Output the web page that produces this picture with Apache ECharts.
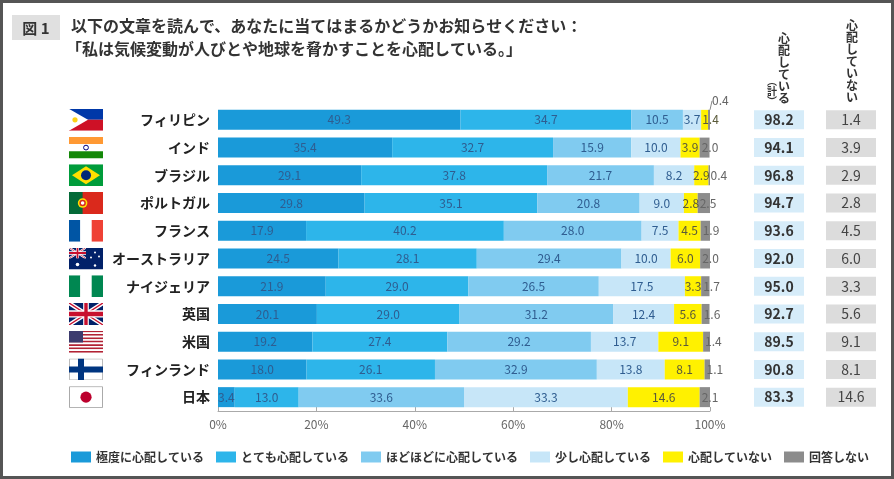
<!DOCTYPE HTML>
<html lang="ja">

<head>
	<meta charset="utf-8">
	<title>図1 気候変動への心配</title>
	<style>
		html, body {
			margin: 0;
			padding: 0;
			background: #fff;
		}
		#main {
			width: 894px;
			height: 479px;
		}
	</style>
</head>

<body>
	<div id="main"></div>

	<script src="https://cdn.jsdelivr.net/npm/echarts@6/dist/echarts.min.js"></script>

	<script>
		var countries = ['フィリピン', 'インド', 'ブラジル', 'ポルトガル', 'フランス', 'オーストラリア', 'ナイジェリア', '英国', '米国', 'フィンランド', '日本'];
		var flagCodes = ['ph', 'in', 'br', 'pt', 'fr', 'au', 'ng', 'gb', 'us', 'fi', 'jp'];

		var seriesNames = ['極度に心配している', 'とても心配している', 'ほどほどに心配している', '少し心配している', '心配していない', '回答しない'];
		var extreme = [49.3, 35.4, 29.1, 29.8, 17.9, 24.5, 21.9, 20.1, 19.2, 18.0, 3.4];
		var very = [34.7, 32.7, 37.8, 35.1, 40.2, 28.1, 29.0, 29.0, 27.4, 26.1, 13.0];
		var moderate = [10.5, 15.9, 21.7, 20.8, 28.0, 29.4, 26.5, 31.2, 29.2, 32.9, 33.6];
		var little = [3.7, 10.0, 8.2, 9.0, 7.5, 10.0, 17.5, 12.4, 13.7, 13.8, 33.3];
		var notWorried = [1.4, 3.9, 2.9, 2.8, 4.5, 6.0, 3.3, 5.6, 9.1, 8.1, 14.6];
		var noAnswer = [0.4, 2.0, 0.4, 2.5, 1.9, 2.0, 1.7, 1.6, 1.4, 1.1, 2.1];

		var worriedTotal = [98.2, 94.1, 96.8, 94.7, 93.6, 92.0, 95.0, 92.7, 89.5, 90.8, 83.3];
		var notWorriedTotal = [1.4, 3.9, 2.9, 2.8, 4.5, 6.0, 3.3, 5.6, 9.1, 8.1, 14.6];

		var colors = ['#1a9ad9', '#2db5ea', '#80cbf0', '#c7e6f8', '#fff100', '#8c8c8c'];
		var font = '"Noto Sans CJK JP", "Noto Sans", sans-serif';

		// 国旗 (簡略化したSVG)
		function unionJack() {
			return '<rect width="60" height="30" fill="#012169"/>' +
				'<path d="M0,0 L60,30 M60,0 L0,30" stroke="#fff" stroke-width="6"/>' +
				'<path d="M0,0 L60,30 M60,0 L0,30" stroke="#c8102e" stroke-width="2"/>' +
				'<path d="M30,0 V30 M0,15 H60" stroke="#fff" stroke-width="10"/>' +
				'<path d="M30,0 V30 M0,15 H60" stroke="#c8102e" stroke-width="6"/>';
		}
		function flagSvg(code) {
			var s = '';
			if (code === 'ph') {
				s = '<rect width="34" height="11" fill="#0038a8"/><rect y="11" width="34" height="11" fill="#ce1126"/>' +
					'<polygon points="0,0 19,11 0,22" fill="#fff"/><circle cx="6" cy="11" r="2.6" fill="#fcd116"/>';
			} else if (code === 'in') {
				s = '<rect width="34" height="7.3" fill="#ff9933"/><rect y="7.3" width="34" height="7.4" fill="#fff"/>' +
					'<rect y="14.7" width="34" height="7.3" fill="#138808"/><circle cx="17" cy="11" r="2.4" fill="none" stroke="#000080" stroke-width="1"/>';
			} else if (code === 'br') {
				s = '<rect width="34" height="22" fill="#009c3b"/><polygon points="17,2 31,11 17,20 3,11" fill="#ffdf00"/>' +
					'<circle cx="17" cy="11" r="5" fill="#002776"/>';
			} else if (code === 'pt') {
				s = '<rect width="34" height="22" fill="#da291c"/><rect width="13.6" height="22" fill="#046a38"/>' +
					'<circle cx="13.6" cy="11" r="4.8" fill="#ffe000"/><circle cx="13.6" cy="11" r="3.2" fill="#da291c"/>' +
					'<circle cx="13.6" cy="11" r="1.8" fill="#fff"/>';
			} else if (code === 'fr') {
				s = '<rect width="11.3" height="22" fill="#0055a4"/><rect x="11.3" width="11.4" height="22" fill="#fff"/>' +
					'<rect x="22.7" width="11.3" height="22" fill="#ef4135"/>';
			} else if (code === 'au') {
				s = '<rect width="34" height="22" fill="#012169"/>' +
					'<svg width="17" height="11" viewBox="0 0 60 30" preserveAspectRatio="none">' + unionJack() + '</svg>' +
					'<circle cx="8.5" cy="17" r="1.8" fill="#fff"/><circle cx="26" cy="5" r="1" fill="#fff"/>' +
					'<circle cx="22" cy="10" r="1" fill="#fff"/><circle cx="30" cy="9" r="1" fill="#fff"/>' +
					'<circle cx="26" cy="18" r="1.2" fill="#fff"/>';
			} else if (code === 'ng') {
				s = '<rect width="11.3" height="22" fill="#008751"/><rect x="11.3" width="11.4" height="22" fill="#fff"/>' +
					'<rect x="22.7" width="11.3" height="22" fill="#008751"/>';
			} else if (code === 'gb') {
				s = '<svg width="34" height="22" viewBox="0 0 60 30" preserveAspectRatio="none">' + unionJack() + '</svg>';
			} else if (code === 'us') {
				for (var i = 0; i < 13; i++) {
					s += '<rect y="' + (i * 22 / 13) + '" width="34" height="' + (22 / 13 + 0.05) + '" fill="' + (i % 2 ? '#fff' : '#b22234') + '"/>';
				}
				s += '<rect width="14" height="11.8" fill="#3c3b6e"/>';
			} else if (code === 'fi') {
				s = '<rect x="0.5" y="0.5" width="33" height="21" fill="#fff" stroke="#bbb"/>' +
					'<rect x="9" width="6" height="22" fill="#003580"/><rect y="8" width="34" height="6" fill="#003580"/>';
			} else if (code === 'jp') {
				s = '<rect x="0.5" y="0.5" width="33" height="21" fill="#fff" stroke="#aaa"/>' +
					'<circle cx="17" cy="11" r="5.6" fill="#bc002d"/>';
			}
			var svg = '<svg xmlns="http://www.w3.org/2000/svg" width="34" height="22" viewBox="0 0 34 22">' + s + '</svg>';
			return 'data:image/svg+xml;charset=utf-8,' + encodeURIComponent(svg);
		}

		var flagRich = {};
		flagCodes.forEach(function (code) {
			flagRich[code] = {
				width: 34,
				height: 22,
				backgroundColor: { image: flagSvg(code) }
			};
		});

		var chart = echarts.init(document.getElementById('main'));

		var stacks = [extreme, very, moderate, little, notWorried, noAnswer];
		var series = stacks.map(function (vals, k) {
			var s = {
				name: seriesNames[k],
				type: 'bar',
				stack: 'total',
				barWidth: 20,
				itemStyle: { color: colors[k] },
				label: {
					show: true,
					position: 'inside',
					fontFamily: font,
					fontSize: 12,
					color: k === 4 ? '#5a5a3a' : '#2f5d90',
					formatter: function (p) { return p.value.toFixed(1); }
				},
				data: vals.slice()
			};
			if (k === 4) {
				// フィリピンは細いので左寄せ
				s.data[0] = { value: vals[0], label: { position: 'insideLeft', distance: 1 } };
			}
			if (k === 5) {
				s.label.position = 'insideLeft';
				s.label.distance = 2;
				s.label.color = '#666';
				s.data = vals.map(function (v, i) {
					if (i === 0) {
						return { value: v, labelLine: { show: true, lineStyle: { color: '#888', width: 1 } } };
					}
					return v;
				});
				s.labelLayout = function (p) {
					if (p.dataIndex === 0) {
						return { dx: 2, dy: -19 };
					}
				};
				s.labelLine = { show: false };
			}
			return s;
		});

		var option = {
			animation: false,
			textStyle: { fontFamily: font },
			legend: {
				left: 66,
				top: 446,
				itemWidth: 20,
				itemHeight: 11,
				itemGap: 12,
				icon: 'rect',
				textStyle: { fontSize: 12, fontWeight: 'bold', color: '#333', fontFamily: font },
				data: seriesNames
			},
			grid: {
				left: 218,
				right: 184,
				top: 106,
				bottom: 68
			},
			xAxis: {
				type: 'value',
				min: 0,
				max: 100,
				interval: 20,
				axisLine: { show: true, lineStyle: { color: '#aaa' } },
				axisTick: { show: true, inside: true, length: 4, lineStyle: { color: '#aaa' } },
				splitLine: { show: false },
				axisLabel: { formatter: '{value}%', color: '#666', fontSize: 12, margin: 7 }
			},
			yAxis: [{
				type: 'category',
				inverse: true,
				data: countries,
				axisLine: { show: false },
				axisTick: { show: false },
				axisLabel: { fontSize: 14, fontWeight: 'bold', color: '#222', margin: 8 }
			}, {
				type: 'category',
				inverse: true,
				position: 'left',
				data: countries,
				axisLine: { show: false },
				axisTick: { show: false },
				axisLabel: {
					margin: 115,
					formatter: function (v, i) { return '{' + flagCodes[i] + '|}'; },
					rich: flagRich
				}
			}, {
				type: 'category',
				inverse: true,
				position: 'right',
				data: countries,
				axisLine: { show: false },
				axisTick: { show: false },
				axisLabel: {
					margin: 44,
					formatter: function (v, i) { return '{b|' + worriedTotal[i].toFixed(1) + '}'; },
					rich: {
						b: {
							width: 50, height: 19, lineHeight: 19, align: 'center',
							backgroundColor: '#d6ecf9', color: '#333',
							fontSize: 14, fontWeight: 'bold', fontFamily: font
						}
					}
				}
			}, {
				type: 'category',
				inverse: true,
				position: 'right',
				data: countries,
				axisLine: { show: false },
				axisTick: { show: false },
				axisLabel: {
					margin: 116,
					formatter: function (v, i) { return '{b|' + notWorriedTotal[i].toFixed(1) + '}'; },
					rich: {
						b: {
							width: 50, height: 19, lineHeight: 19, align: 'center',
							backgroundColor: '#dcdcdc', color: '#444',
							fontSize: 14, fontFamily: font
						}
					}
				}
			}],
			graphic: [{
				type: 'rect',
				shape: { x: 1.5, y: 1.5, width: 891, height: 476 },
				style: { fill: 'none', stroke: '#555', lineWidth: 3 },
				silent: true
			}, {
				type: 'rect',
				shape: { x: 12, y: 15, width: 48, height: 25 },
				style: { fill: '#e0e0e0' }
			}, {
				type: 'text',
				x: 36, y: 28,
				style: { text: '図 1', fontSize: 15, fontWeight: 'bold', fill: '#333', align: 'center', verticalAlign: 'middle', fontFamily: font }
			}, {
				type: 'text',
				x: 71, y: 26,
				style: { text: '以下の文章を読んで、あなたに当てはまるかどうかお知らせください：', fontSize: 16, fontWeight: 'bold', fill: '#333', verticalAlign: 'middle', fontFamily: font }
			}, {
				type: 'text',
				x: 66, y: 49,
				style: { text: '「私は気候変動が人びとや地球を脅かすことを心配している。」', fontSize: 16, fontWeight: 'bold', fill: '#333', verticalAlign: 'middle', fontFamily: font }
			}, {
				type: 'text',
				x: 784, y: 104,
				style: { text: '心\n配\nし\nて\nい\nる', fontSize: 12, lineHeight: 12, fontWeight: 'bold', fill: '#333', align: 'center', verticalAlign: 'bottom', fontFamily: font }
			}, {
				type: 'text',
				x: 772, y: 106,
				style: { text: '︵\n計\n︶', fontSize: 10, lineHeight: 10, fontWeight: 'bold', fill: '#333', align: 'center', verticalAlign: 'bottom', fontFamily: font }
			}, {
				type: 'text',
				x: 852, y: 103,
				style: { text: '心\n配\nし\nて\nい\nな\nい', fontSize: 12, lineHeight: 12, fontWeight: 'bold', fill: '#333', align: 'center', verticalAlign: 'bottom', fontFamily: font }
			}],
			series: series
		};

		chart.setOption(option);
	</script>
</body>

</html>
